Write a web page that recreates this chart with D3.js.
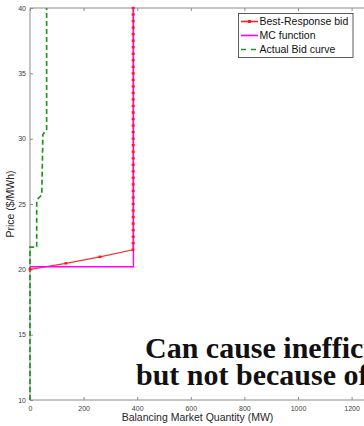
<!DOCTYPE html>
<html><head><meta charset="utf-8">
<script src="https://cdn.jsdelivr.net/npm/d3@7/dist/d3.min.js"></script>
<style>html,body{margin:0;padding:0;background:#fff;overflow:hidden}</style>
</head><body>
<svg id="c" width="364" height="426"></svg>
<script>
// Data
const xTicks = [0, 200, 400, 600, 800, 1000, 1200];
const yTicks = [10, 15, 20, 25, 30, 35, 40];
const brQty   = [0, 134, 261, 384, 385, 385, 385, 385, 385, 385, 385, 385, 385, 385, 385, 385, 385, 385, 385, 385, 385, 385, 385, 385, 385, 385, 385, 385, 385, 385, 385, 385, 385, 385, 385, 385, 385, 385, 385, 385, 385];
const brPrice = [20, 20.46, 20.96, 21.5, 22, 22.5, 23, 23.5, 24, 24.5, 25, 25.5, 26, 26.5, 27, 27.5, 28, 28.5, 29, 29.5, 30, 30.5, 31, 31.5, 32, 32.5, 33, 33.5, 34, 34.5, 35, 35.5, 36, 36.5, 37, 37.5, 38, 38.5, 39, 39.5, 40];
const mcQty   = [0, 386, 386];
const mcPrice = [20.2, 20.2, 40];
const bidQty   = [0, 0, 25, 25, 44, 48, 62, 62];
const bidPrice = [10, 21.7, 21.7, 25.3, 25.7, 30.3, 30.7, 40];
const legendLabels = ["Best-Response bid", "MC function", "Actual Bid curve"];
const overlayLines = ["Can cause inefficiency", "but not because of"];

const svg = d3.select("#c");
const L = 30, R = 365, T = 8, B = 400;
const x = d3.scaleLinear().domain([0, 1250]).range([L, R]);
const y = d3.scaleLinear().domain([10, 40]).range([B, T]);

const axisCol = "#8c8c8c", txtCol = "#404040";

// frame
svg.append("rect").attr("x", L).attr("y", T).attr("width", R - L).attr("height", B - T)
  .attr("fill", "none").attr("stroke", axisCol).attr("stroke-width", 1);

// axes
const xa = svg.append("g").attr("transform", `translate(0,${B})`)
  .call(d3.axisBottom(x).tickValues(xTicks).tickSizeInner(-3).tickSizeOuter(0).tickPadding(6).tickFormat(d3.format("d")));
const xt = svg.append("g").attr("transform", `translate(0,${T})`)
  .call(d3.axisTop(x).tickValues(xTicks).tickSizeInner(-3).tickSizeOuter(0).tickFormat(""));
const ya = svg.append("g").attr("transform", `translate(${L},0)`)
  .call(d3.axisLeft(y).tickValues(yTicks).tickSizeInner(-3).tickSizeOuter(0).tickPadding(4));
[xa, xt, ya].forEach(g => {
  g.select(".domain").remove();
  g.selectAll("line").attr("stroke", axisCol);
  g.selectAll("text").attr("fill", txtCol).style("font-family", "Liberation Sans, Arial, sans-serif").style("font-size", "7px");
});

// labels
svg.append("text").attr("x", (L + R) / 2).attr("y", 421).attr("text-anchor", "middle")
  .style("font-family", "Liberation Sans, Arial, sans-serif").style("font-size", "10.5px").attr("fill", "#262626")
  .text("Balancing Market Quantity (MW)");
svg.append("text").attr("transform", `translate(14,${(T + B) / 2}) rotate(-90)`).attr("text-anchor", "middle")
  .style("font-family", "Liberation Sans, Arial, sans-serif").style("font-size", "10.5px").attr("fill", "#262626")
  .text("Price ($/MWh)");

const line = d3.line().x(d => x(d[0])).y(d => y(d[1]));
const br = brQty.map((q, i) => [q, brPrice[i]]);
const mc = mcQty.map((q, i) => [q, mcPrice[i]]);
const bid = bidQty.map((q, i) => [q, bidPrice[i]]);

svg.append("path").datum(br).attr("d", line).attr("fill", "none").attr("stroke", "#ff3030").attr("stroke-width", 1.2);
svg.append("path").datum(mc).attr("d", line).attr("fill", "none").attr("stroke", "#ff00ff").attr("stroke-width", 1.4);
svg.append("path").datum(bid).attr("d", line).attr("fill", "none").attr("stroke", "#1a9a1a").attr("stroke-width", 1.7).attr("stroke-dasharray", "5,3");

// markers
svg.append("g").selectAll("rect").data(br).join("rect")
  .attr("x", d => x(d[0]) - 1.5).attr("y", d => y(d[1]) - 1.2).attr("width", 3).attr("height", 2.4)
  .attr("fill", "#ff1a1a");

// legend
const lg = svg.append("g");
lg.append("rect").attr("x", 238.5).attr("y", 13.5).attr("width", 114.5).attr("height", 44)
  .attr("fill", "#fff").attr("stroke", "#333").attr("stroke-width", 0.8);
const styles = [
  { c: "#ff2020", dash: null, mk: true },
  { c: "#ff00ff", dash: null, mk: false },
  { c: "#1a9a1a", dash: "5,5", mk: false }
];
legendLabels.forEach((t, i) => {
  const yy = 21.5 + i * 14;
  lg.append("line").attr("x1", 241).attr("x2", 258).attr("y1", yy).attr("y2", yy)
    .attr("stroke", styles[i].c).attr("stroke-width", 1.6).attr("stroke-dasharray", styles[i].dash);
  if (styles[i].mk) lg.append("rect").attr("x", 248).attr("y", yy - 1.5).attr("width", 3).attr("height", 3).attr("fill", "#ff1a1a");
  lg.append("text").attr("x", 259.5).attr("y", yy + 3.8).style("font-family", "Liberation Sans, Arial, sans-serif")
    .style("font-size", "10.5px").attr("fill", "#111").text(t);
});

// overlay text
svg.append("text").attr("x", 145).attr("y", 358).style("font-family", "Liberation Serif, serif").style("font-weight", "bold")
  .style("font-size", "30px").attr("fill", "#111").text(overlayLines[0]);
svg.append("text").attr("x", 136).attr("y", 385).style("font-family", "Liberation Serif, serif").style("font-weight", "bold")
  .style("font-size", "30px").attr("fill", "#111").text(overlayLines[1]);
</script>
</body></html>
